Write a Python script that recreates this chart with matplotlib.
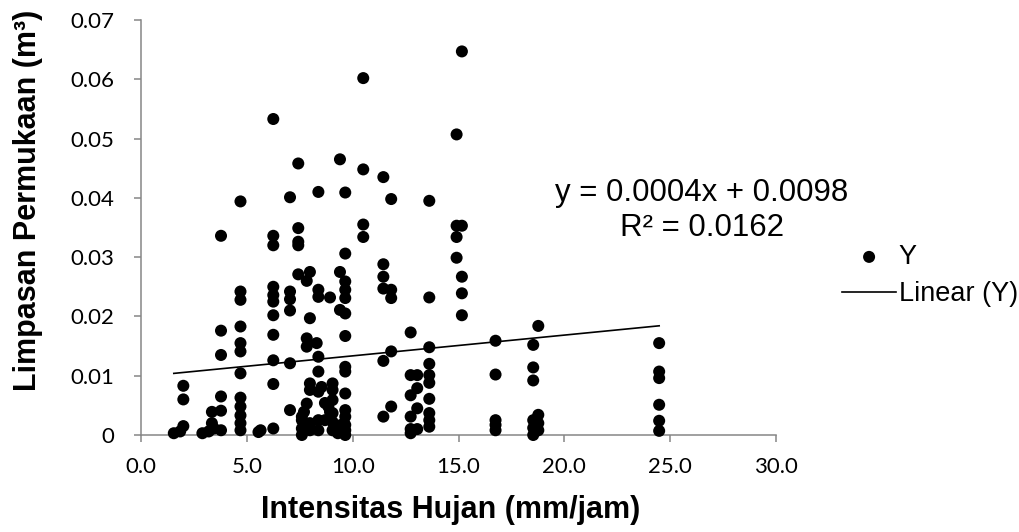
import matplotlib
matplotlib.use("Agg")
import matplotlib.pyplot as plt
import numpy as np

# ---- data ----
intensity = [
    1.55, 1.85, 2.0, 2.0, 2.0, 2.9, 3.2, 3.35, 3.35, 3.45,
    3.78, 3.78, 3.78, 3.78, 3.78, 3.78,
    4.7, 4.7, 4.7, 4.7, 4.7, 4.7, 4.7, 4.7, 4.7, 4.7, 4.7, 4.7,
    5.55, 5.65,
    6.25, 6.25, 6.25, 6.25, 6.25, 6.25, 6.25, 6.25, 6.25, 6.25, 6.25,
    7.04, 7.04, 7.04, 7.04, 7.04, 7.04,
    7.43, 7.43, 7.43, 7.43, 7.43,
    7.6, 7.6, 7.6, 7.6, 7.7,
    7.83, 7.83, 7.83, 7.83,
    7.98, 7.98, 7.98, 7.98, 7.98, 7.98,
    8.3,
    8.38, 8.38, 8.38, 8.38, 8.38, 8.38, 8.38, 8.38,
    8.53, 8.69, 8.69, 8.85, 8.93, 8.93,
    9.05, 9.05, 9.05, 9.05, 9.05, 9.05,
    9.3, 9.4, 9.4, 9.4, 9.45,
    9.65, 9.65, 9.65, 9.65, 9.65, 9.65, 9.65, 9.65, 9.65, 9.65, 9.65, 9.65, 9.65, 9.65, 9.65,
    10.5, 10.5, 10.5, 10.5,
    11.45, 11.45, 11.45, 11.45, 11.45, 11.45,
    11.82, 11.82, 11.82, 11.82, 11.82,
    12.74, 12.74, 12.74, 12.74, 12.74, 12.74,
    13.05, 13.05, 13.05, 13.05,
    13.62, 13.62, 13.62, 13.62, 13.62, 13.62, 13.62, 13.62, 13.62, 13.62,
    14.91, 14.91, 14.91, 14.91,
    15.16, 15.16, 15.16, 15.16, 15.16,
    16.75, 16.75, 16.75, 16.75, 16.75,
    18.53, 18.53, 18.53, 18.53, 18.53, 18.53,
    18.77, 18.77, 18.77, 18.77,
    24.48, 24.48, 24.48, 24.48, 24.48, 24.48,
]
runoff = [
    0.0003, 0.0006, 0.0083, 0.0060, 0.0015, 0.0003, 0.0006, 0.0039, 0.0020, 0.0011,
    0.0336, 0.0176, 0.0135, 0.0065, 0.0041, 0.0008,
    0.0394, 0.0242, 0.0228, 0.0183, 0.0155, 0.0141, 0.0104, 0.0063, 0.0048, 0.0033, 0.0020, 0.0008,
    0.0005, 0.0008,
    0.0533, 0.0336, 0.0320, 0.0250, 0.0236, 0.0225, 0.0202, 0.0169, 0.0126, 0.0086, 0.0011,
    0.0401, 0.0242, 0.0229, 0.0210, 0.0121, 0.0042,
    0.0458, 0.0349, 0.0326, 0.0320, 0.0271,
    0.0031, 0.0025, 0.0011, 0.0000, 0.0039,
    0.0260, 0.0163, 0.0149, 0.0053,
    0.0275, 0.0197, 0.0087, 0.0076, 0.0020, 0.0008,
    0.0155,
    0.0410, 0.0245, 0.0233, 0.0132, 0.0107, 0.0073, 0.0025, 0.0008,
    0.0081, 0.0054, 0.0025, 0.0048, 0.0232, 0.0039,
    0.0087, 0.0076, 0.0059, 0.0037, 0.0022, 0.0008,
    0.0003, 0.0465, 0.0275, 0.0211, 0.0017,
    0.0409, 0.0306, 0.0259, 0.0245, 0.0231, 0.0205, 0.0167, 0.0115, 0.0107, 0.0070, 0.0042, 0.0031, 0.0017, 0.0008, 0.0000,
    0.0602, 0.0448, 0.0355, 0.0334,
    0.0435, 0.0288, 0.0267, 0.0247, 0.0125, 0.0031,
    0.0398, 0.0245, 0.0231, 0.0141, 0.0048,
    0.0173, 0.0101, 0.0067, 0.0031, 0.0010, 0.0003,
    0.0101, 0.0079, 0.0045, 0.0010,
    0.0395, 0.0232, 0.0148, 0.0120, 0.0101, 0.0088, 0.0061, 0.0037, 0.0025, 0.0014,
    0.0507, 0.0353, 0.0334, 0.0299,
    0.0647, 0.0353, 0.0267, 0.0239, 0.0202,
    0.0159, 0.0102, 0.0025, 0.0017, 0.0008,
    0.0152, 0.0114, 0.0092, 0.0025, 0.0012, 0.0000,
    0.0184, 0.0034, 0.0020, 0.0008,
    0.0155, 0.0107, 0.0096, 0.0051, 0.0024, 0.0007,
]
trend_slope = 0.00035
trend_intercept = 0.00985
x_ticks = [0, 5, 10, 15, 20, 25, 30]
x_tick_labels = ["0.0", "5.0", "10.0", "15.0", "20.0", "25.0", "30.0"]
y_ticks = [0, 0.01, 0.02, 0.03, 0.04, 0.05, 0.06, 0.07]
y_tick_labels = ["0", "0.01", "0.02", "0.03", "0.04", "0.05", "0.06", "0.07"]
eq_text = "y = 0.0004x + 0.0098"
r2_text = "R\u00b2 = 0.0162"

W, H = 1019, 532
fig = plt.figure(figsize=(W / 100, H / 100), dpi=100)
ax = fig.add_axes([141 / W, 97 / H, 635 / W, 415 / H])

axis_col = "#868686"
ax.scatter(intensity, runoff, s=75, color="black", edgecolors="none",
           zorder=5, clip_on=False, label="Y")
tx = np.array([min(intensity), max(intensity)])
ax.plot(tx, trend_slope * tx + trend_intercept, color="black", lw=1.2,
        zorder=4, label="Linear (Y)")

ax.set_xlim(0, 30)
ax.set_ylim(0, 0.07)
ax.set_xticks(x_ticks)
ax.set_xticklabels(x_tick_labels)
ax.set_yticks(y_ticks)
ax.set_yticklabels(y_tick_labels)

for side in ("top", "right"):
    ax.spines[side].set_visible(False)
for side in ("left", "bottom"):
    ax.spines[side].set_color(axis_col)
    ax.spines[side].set_linewidth(1.1)
ax.tick_params(axis="both", direction="out", length=5, width=1.1,
               color=axis_col, labelsize=16, labelcolor="black")
ax.tick_params(axis="y", pad=14)
ax.tick_params(axis="x", pad=11)
for lab in ax.get_xticklabels() + ax.get_yticklabels():
    lab.set_fontfamily("Lato")

fig.text(28 / W, 1 - 200 / H, "Limpasan Permukaan (m\u00b3)", rotation=90,
         ha="center", va="center", fontsize=22, fontweight="bold",
         family="Liberation Sans")
fig.text(451 / W, 1 - 510 / H, "Intensitas Hujan (mm/jam)",
         ha="center", va="center", fontsize=22, fontweight="bold",
         family="Liberation Sans")

fig.text(702 / W, 1 - 193 / H, eq_text, ha="center", va="center",
         fontsize=22.5, family="Liberation Sans")
fig.text(702 / W, 1 - 228 / H, r2_text, ha="center", va="center",
         fontsize=22.5, family="Liberation Sans")

leg = fig.legend(loc="upper left", bbox_to_anchor=(842 / W, 1 - 244 / H),
                 bbox_transform=fig.transFigure, frameon=False,
                 prop={"family": "Liberation Sans", "size": 19.5},
                 borderpad=0, borderaxespad=0, handlelength=2.0,
                 handletextpad=0.1, labelspacing=0.42)

fig.savefig("out.png", dpi=100)
